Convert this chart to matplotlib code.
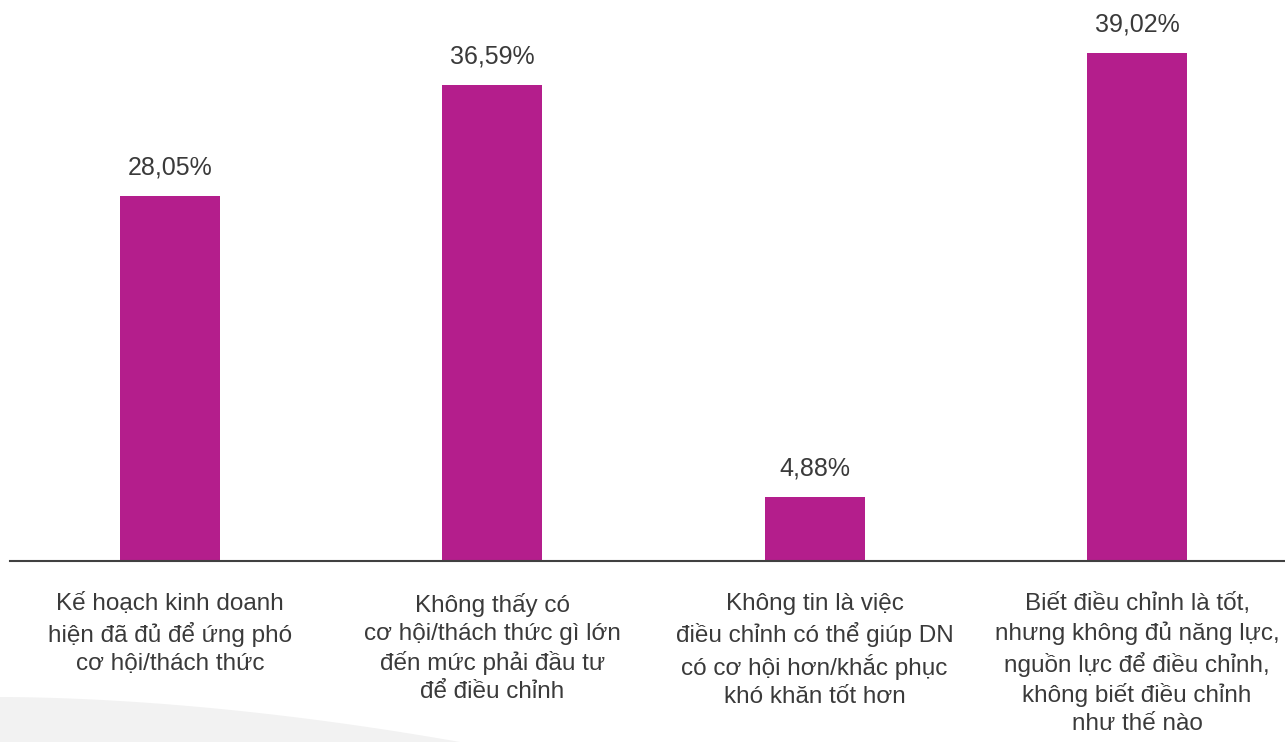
import matplotlib.pyplot as plt
import numpy as np
from matplotlib.patches import Polygon

plt.rcParams['font.family'] = ['Liberation Sans', 'DejaVu Sans']

labels = [
    'Kế hoạch kinh doanh\nhiện đã đủ để ứng phó\ncơ hội/thách thức',
    'Không thấy có\ncơ hội/thách thức gì lớn\nđến mức phải đầu tư\nđể điều chỉnh',
    'Không tin là việc\nđiều chỉnh có thể giúp DN\ncó cơ hội hơn/khắc phục\nkhó khăn tốt hơn',
    'Biết điều chỉnh là tốt,\nnhưng không đủ năng lực,\nnguồn lực để điều chỉnh,\nkhông biết điều chỉnh\nnhư thế nào',
]
values = [28.05, 36.59, 4.88, 39.02]
value_text = ['28,05%', '36,59%', '4,88%', '39,02%']

W, H = 1285, 742
fig = plt.figure(figsize=(W / 100, H / 100), dpi=100)

# decorative light-gray swoosh in the bottom-left corner
bg = fig.add_axes([0, 0, 1, 1])
bg.set_xlim(0, W)
bg.set_ylim(H, 0)
bg.axis('off')
xs = np.linspace(0, 460, 60)
ys = 697 + 45 * (xs / 460) ** 1.8
bg.add_patch(Polygon(np.column_stack([np.r_[0, xs, 0], np.r_[697, ys, H]]),
                     closed=True, color='#f2f2f2', lw=0))

ax = fig.add_axes([10 / W, (H - 561) / H, (W - 10) / W, 561 / H])
x = np.arange(len(values))
ax.bar(x, values, width=0.31, color='#b41e8c')
ax.set_xlim(-0.496, 3.459)
ax.set_ylim(0, 43.1)
for s in ['top', 'right', 'left']:
    ax.spines[s].set_visible(False)
ax.spines['bottom'].set_color('#404040')
ax.spines['bottom'].set_linewidth(1.5)
ax.set_yticks([])
ax.set_xticks(x)
ax.set_xticklabels(labels, fontsize=17.5, color='#3a3a3a', linespacing=1.34)
ax.tick_params(axis='x', length=0, pad=23)
ax.patch.set_alpha(0)

for xi, v, t in zip(x, values, value_text):
    ax.annotate(t, (xi, v), xytext=(0, 12), textcoords='offset points',
                ha='center', va='bottom', fontsize=18, color='#3a3a3a')

fig.savefig('out.png', dpi=100)
